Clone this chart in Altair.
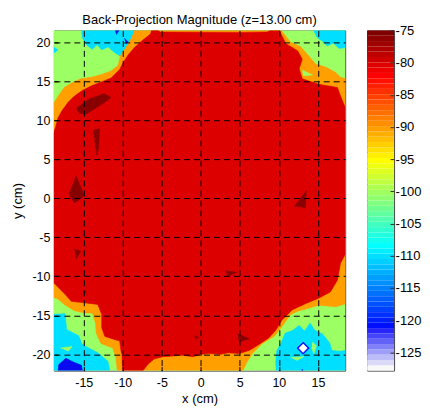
import altair as alt
import pandas as pd

FONT = "Liberation Sans"
TITLE = "Back-Projection Magnitude (z=13.00 cm)"
X_TICKS = [-15, -10, -5, 0, 5, 10, 15]
Y_TICKS = [-20, -15, -10, -5, 0, 5, 10, 15, 20]
CB_TICKS = [-125, -120, -115, -110, -105, -100, -95, -90, -85, -80, -75]
X_DOMAIN = [-18.83, 18.5]
Y_DOMAIN = [-22.08, 21.5]
CB_DOMAIN = [-127.84, -75.0]

# contour level colours (jet colormap entries)
C_DARKRED = "#880000"
C_RED = "#DD0000"
C_ORANGE = "#FF9F00"
C_GREEN = "#9CFF64"
C_CYAN = "#00DFFF"
C_BLUE = "#0A0AF0"
C_WHITE = "#FFFFFF"

# ---- contour regions (x cm, y cm) ----
green_all = [(-19.5, -23), (19.5, -23), (19.5, 22), (-19.5, 22)]

cyan_tl = [(-15.3, 22), (-15.2, 20.6), (-14.6, 19.6), (-13.9, 19.1), (-13.3, 19.7), (-12.7, 19.0),
           (-11.9, 19.4), (-11.1, 18.7), (-10.3, 18.2), (-9.6, 19.2), (-8.0, 22)]
cyan_left = [(-19.5, 19.8), (-18.3, 19.0), (-19.5, 18.1)]
cyan_tr = [(14.2, 22), (14.9, 20.6), (15.6, 20.1), (16.2, 19.5), (17.0, 19.9), (17.7, 19.2),
           (18.6, 19.3), (19.5, 19.2), (19.5, 22)]
cyan_bl = [(-19.5, -14.9), (-17.4, -14.8), (-17.2, -16.8), (-15.5, -17.7), (-14.9, -18.9),
           (-13.2, -19.8), (-11.9, -20.9), (-11.5, -23), (-19.5, -23)]
cyan_br = [(9.7, -23), (9.6, -21.0), (9.7, -19.6), (10.3, -18.5), (10.8, -17.3), (11.8, -16.9),
           (12.6, -16.3), (13.3, -17.0), (14.0, -16.0), (14.6, -16.9), (15.6, -17.4), (16.5, -18.5),
           (16.8, -19.5), (17.8, -19.6), (19.5, -19.4), (19.5, -23)]

green_spot1 = [(14.3, -18.4), (14.8, -18.9), (14.5, -19.9), (14.2, -19.2)]
green_spot2 = [(11.5, -20.4), (13.2, -20.3), (12.3, -20.8)]
green_spot3 = [(-15.6, -17.6), (-14.6, -17.9), (-15.2, -18.7)]
green_spot4 = [(-18.0, -19.2), (-16.5, -19.0), (-17.0, -19.6)]

blue_bl = [(-18.4, -23), (-18.2, -21.3), (-17.3, -20.5), (-16.3, -21.0), (-15.3, -21.4), (-15.0, -23)]
blue_bl2 = [(-19.5, -21.6), (-18.7, -22.3), (-19.5, -23)]
blue_top1 = [(-11.1, 22), (-10.8, 21.0), (-10.2, 22)]
blue_top2 = [(-9.8, 20.5), (-9.3, 20.0), (-9.6, 19.8)]
blue_bot = [(12.7, -23), (13.0, -21.9), (13.3, -23)]

orange_region = [(-8.4, 22), (10.3, 22), (10.4, 21.4), (11.5, 20.0), (12.8, 19.4), (13.6, 18.5),
                 (14.7, 17.2), (16.0, 16.8), (17.3, 16.1), (17.9, 15.5), (18.6, 15.3), (19.5, 15.3),
                 (19.5, -13.4), (18.6, -13.5), (17.3, -13.9), (15.1, -13.7), (13.8, -14.1),
                 (12.6, -14.4), (11.5, -14.9), (10.5, -16.3), (9.5, -17.6), (7.9, -18.6), (6.6, -19.9),
                 (5.8, -21.2), (5.3, -22.3), (5.2, -23), (-10.6, -23), (-10.9, -20.3), (-11.3, -19.2),
                 (-12.8, -18.6), (-13.4, -17.3), (-13.5, -16.0), (-13.9, -14.7), (-14.9, -14.7),
                 (-16.2, -14.4), (-17.5, -13.6), (-18.3, -12.9), (-19.5, -12.5), (-19.5, 12.1),
                 (-18.9, 12.1), (-18.2, 13.2), (-17.5, 14.2), (-16.5, 14.8), (-15.4, 15.3),
                 (-14.0, 15.5), (-12.6, 15.9), (-11.5, 16.3), (-10.6, 17.0), (-10.3, 18.3),
                 (-9.6, 19.3), (-8.9, 20.5)]
green_in_orange = [(13.0, 16.4), (14.3, 15.8), (13.1, 15.7)]

red_region = [(-6.2, 22), (-5.2, 21.3), (5.0, 21.25), (8.5, 21.3), (9.9, 22), (10.3, 21.0),
              (10.9, 19.8), (12.4, 18.9), (13.0, 17.8), (12.6, 16.6), (13.0, 15.3), (15.1, 14.6),
              (17.5, 14.2), (17.9, 13.1), (18.6, 11.4), (19.5, 11.2), (19.5, -7.05), (18.6, -7.05),
              (17.9, -8.3), (17.5, -10.5), (16.6, -12.0), (15.1, -12.8), (13.4, -13.5), (11.7, -14.3),
              (10.4, -15.6), (9.6, -16.9), (8.7, -17.9), (7.5, -18.7), (6.2, -19.5), (4.9, -19.9),
              (3.5, -19.8), (2.5, -20.0), (1.1, -19.9), (0.0, -20.0), (-1.0, -20.3), (-2.4, -20.1),
              (-3.5, -20.2), (-4.9, -20.3), (-6.0, -20.6), (-6.8, -21.3), (-7.5, -22.2), (-7.6, -23),
              (-10.0, -23), (-10.1, -20.0), (-10.2, -19.8), (-10.4, -18.3), (-12.3, -17.7),
              (-12.7, -16.6), (-12.7, -14.9), (-13.2, -13.6), (-14.9, -13.4), (-16.6, -13.2),
              (-17.4, -12.3), (-18.8, -10.9), (-19.5, -10.9), (-19.5, 8.2), (-18.9, 8.2),
              (-18.6, 9.2), (-18.3, 10.3), (-17.8, 11.2), (-17.0, 12.3), (-16.3, 13.0),
              (-15.2, 13.8), (-14.0, 14.4), (-12.5, 15.0), (-11.5, 15.4), (-10.4, 16.5),
              (-10.0, 17.3), (-9.3, 18.4), (-8.5, 19.3), (-7.5, 20.2), (-6.5, 21.0)]

dark_blob = [(-16.0, 11.5), (-14.3, 12.7), (-12.4, 13.4), (-11.5, 12.9), (-12.6, 12.1),
             (-14.7, 10.8), (-15.6, 10.9)]
dark_streak = [(-13.8, 8.7), (-13.0, 8.9), (-13.1, 6.5), (-13.3, 5.5), (-13.6, 7.4)]
dark_left = [(-16.0, 2.9), (-15.0, 0.5), (-15.2, 0.1), (-16.2, -0.6), (-16.9, 0.6)]
dark_left2 = [(-16.2, -6.5), (-15.4, -6.8), (-16.0, -7.8)]
dark_right = [(13.5, 1.0), (13.4, -1.2), (12.0, -1.0)]
dark_mid = [(3.2, -9.3), (4.6, -9.5), (3.4, -10.0)]
dark_low = [(4.7, -17.4), (6.2, -18.0), (4.9, -18.4)]
dark_dot = [(-0.8, -17.6), (-0.3, -17.8), (-0.7, -18.1)]
dark_dot2 = [(-15.1, -11.8), (-14.7, -12.0), (-15.0, -12.3)]

diamond_edge = [(13.1, -18.4), (13.9, -19.2), (13.1, -20.0), (12.3, -19.2)]
diamond_core = [(13.1, -18.65), (13.65, -19.2), (13.1, -19.75), (12.55, -19.2)]

# paint order: (stage, colour, polygon)
REGIONS = [
    (0, C_GREEN, green_all),
    (1, C_CYAN, cyan_tl), (1, C_CYAN, cyan_left), (1, C_CYAN, cyan_tr),
    (1, C_CYAN, cyan_bl), (1, C_CYAN, cyan_br),
    (2, C_GREEN, green_spot1), (2, C_GREEN, green_spot2), (2, C_GREEN, green_spot3),
    (2, C_GREEN, green_spot4), (2, C_BLUE, blue_bl), (2, C_BLUE, blue_bl2),
    (2, C_BLUE, blue_top1), (2, C_BLUE, blue_top2), (2, C_BLUE, blue_bot),
    (3, C_ORANGE, orange_region),
    (4, C_GREEN, green_in_orange),
    (5, C_RED, red_region),
    (6, C_DARKRED, dark_blob), (6, C_DARKRED, dark_streak), (6, C_DARKRED, dark_left),
    (6, C_DARKRED, dark_left2), (6, C_DARKRED, dark_right), (6, C_DARKRED, dark_mid),
    (6, C_DARKRED, dark_low), (6, C_DARKRED, dark_dot), (6, C_DARKRED, dark_dot2),
    (6, "#0000FF", diamond_edge),
    (7, C_WHITE, diamond_core),
]

rows = []
for pid, (stage, col, pts) in enumerate(REGIONS):
    for i, (x, y) in enumerate(pts):
        rows.append({"pid": pid, "stage": stage, "hex": col, "i": i, "x": x, "y": y})
df = pd.DataFrame(rows)

common_axis = dict(grid=True, gridColor="black", gridDash=[6, 4], gridWidth=1, gridOpacity=1,
                   ticks=True, tickSize=4, tickColor="black", tickWidth=1, offset=-4,
                   domain=False, labelFont=FONT, labelFontSize=12.5, labelColor="black",
                   titleFont=FONT, titleFontSize=13, titleFontWeight="normal", titleColor="black",
                   labelExpr="'' + datum.value", zindex=1, labelFlush=False)
xaxis = alt.Axis(values=X_TICKS, title="x (cm)", labelPadding=6, titlePadding=3, **common_axis)
yaxis = alt.Axis(values=Y_TICKS, title="y (cm)", labelPadding=4, titlePadding=7, **common_axis)

xenc = alt.X("x:Q", scale=alt.Scale(domain=X_DOMAIN, nice=False, zero=False), axis=xaxis)
yenc = alt.Y("y:Q", scale=alt.Scale(domain=Y_DOMAIN, nice=False, zero=False), axis=yaxis)

layers = []
for stage in sorted(df["stage"].unique()):
    sub = df[df["stage"] == stage]
    layers.append(
        alt.Chart(sub).mark_line(strokeWidth=0.6, clip=True).encode(
            x=xenc, y=yenc,
            order=alt.Order("i:Q"),
            detail="pid:N",
            fill=alt.Fill("hex:N", scale=None),
            stroke=alt.Stroke("hex:N", scale=None),
        )
    )

main = alt.layer(*layers).properties(
    width=292, height=341,
    title=alt.Title(TITLE, font=FONT, fontSize=13, fontWeight="normal", color="black", offset=3),
)

# ---- colour bar: jet(64) with the lowest entries fading to white ----
def jet64():
    n = 16
    u = [k / n for k in range(1, n + 1)] + [1.0] * (n - 1) + [k / n for k in range(n, 0, -1)]
    g_idx = [8 + k for k in range(1, len(u) + 1)]
    R = [0.0] * 64; G = [0.0] * 64; B = [0.0] * 64
    for k, gi in enumerate(g_idx):
        ri, bi = gi + n, gi - n
        if 1 <= ri <= 64: R[ri - 1] = u[k]
        if 1 <= gi <= 64: G[gi - 1] = u[k]
        if 1 <= bi <= 64: B[bi - 1] = u[k]
    cols = ["#%02X%02X%02X" % (round(r * 255), round(g * 255), round(b * 255)) for r, g, b in zip(R, G, B)]
    for k in range(8):
        v = 248 - k * 30
        cols[k] = "#%02X%02X%02X" % (v, v, 248)
    return cols

CB_COLORS = jet64()
step = (CB_DOMAIN[1] - CB_DOMAIN[0]) / len(CB_COLORS)
cb_df = pd.DataFrame({
    "lo": [CB_DOMAIN[0] + k * step for k in range(len(CB_COLORS))],
    "hi": [CB_DOMAIN[0] + (k + 1) * step for k in range(len(CB_COLORS))],
    "hex": CB_COLORS,
})

cbar = alt.Chart(cb_df).mark_rect().encode(
    y=alt.Y("lo:Q", scale=alt.Scale(domain=CB_DOMAIN, nice=False, zero=False),
            axis=alt.Axis(orient="right", values=CB_TICKS, title=None, grid=False, domain=False,
                          ticks=True, tickSize=4, tickColor="#333333", offset=-4, labelPadding=1,
                          labelFont=FONT, labelFontSize=13, labelColor="black",
                          labelExpr="'' + datum.value", zindex=1, labelFlush=False)),
    y2="hi:Q",
    x=alt.value(0), x2=alt.value(27),
    fill=alt.Fill("hex:N", scale=None),
).properties(width=27, height=341)

chart = alt.hconcat(main, cbar, spacing=22, bounds="flush").properties(
    padding={"left": 3, "top": 5, "right": 0, "bottom": 0}
).configure_view(stroke="#404040", strokeWidth=1)

chart.save("out.html", embed_options={"renderer": "svg", "actions": False})
